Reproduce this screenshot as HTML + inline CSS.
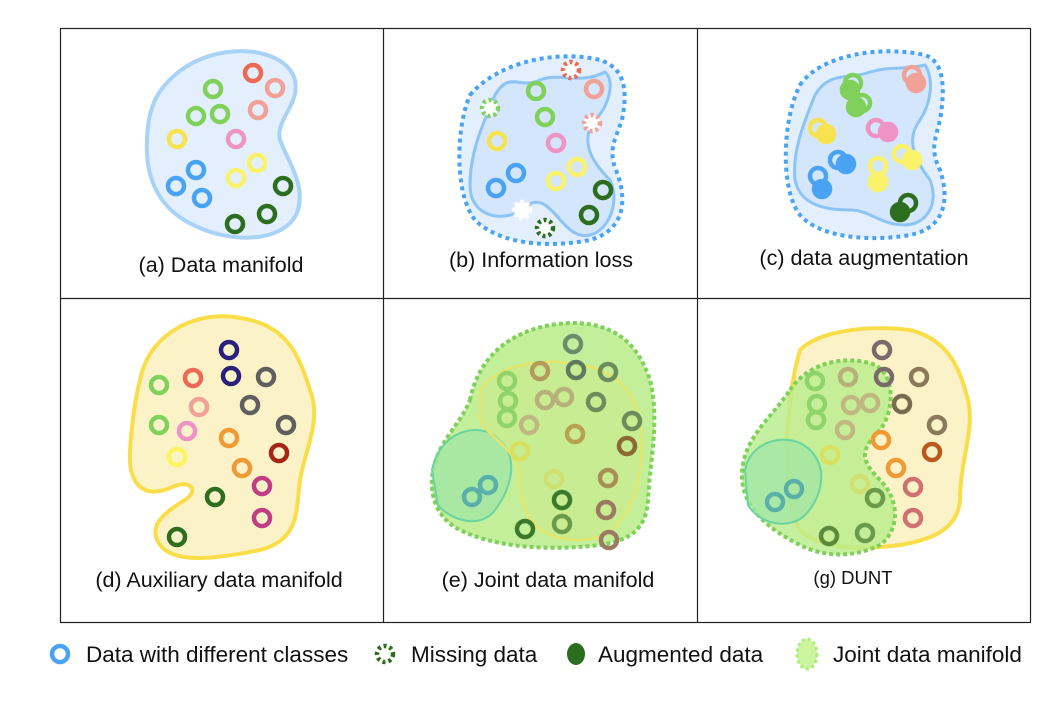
<!DOCTYPE html>
<html><head><meta charset="utf-8"><style>
html,body{margin:0;padding:0;background:#fff;}
svg{display:block;font-family:"Liberation Sans",sans-serif;}
</style></head><body>
<svg width="1064" height="706" viewBox="0 0 1064 706">
<g fill="none" stroke="#222" stroke-width="1.2">
<rect x="60.5" y="28.5" width="970" height="594"/>
<line x1="383.5" y1="28" x2="383.5" y2="622"/>
<line x1="697.5" y1="28" x2="697.5" y2="622"/>
<line x1="60" y1="298.5" x2="1030" y2="298.5"/>
</g>
<!-- (a) -->
<g>
<path d="M175,75 C215,40 285,45 295,80 C300,105 275,120 280,140 C290,165 305,185 298,210 C288,240 240,245 200,228 C160,212 145,180 147,140 C148,110 155,92 175,75Z" fill="#e3effc" stroke="#a9d2f7" stroke-width="4"/>
<g fill="none" stroke-width="4.5">
<circle cx="253" cy="73" r="8" stroke="#ec6a55"/><circle cx="275" cy="88" r="8" stroke="#f2a197"/><circle cx="258" cy="110" r="8" stroke="#f2a197"/>
<circle cx="213" cy="89" r="8" stroke="#7fd15a"/><circle cx="196" cy="116" r="8" stroke="#7fd15a"/><circle cx="220" cy="114" r="8" stroke="#7fd15a"/>
<circle cx="177" cy="139" r="8" stroke="#f7e34f"/><circle cx="236" cy="139" r="8" stroke="#ef92c6"/>
<circle cx="196" cy="170" r="8" stroke="#4aa3f2"/><circle cx="176" cy="186" r="8" stroke="#4aa3f2"/><circle cx="202" cy="198" r="8" stroke="#4aa3f2"/>
<circle cx="257" cy="163" r="8" stroke="#faf36a"/><circle cx="236" cy="178" r="8" stroke="#faf36a"/>
<circle cx="283" cy="186" r="8" stroke="#2d6e1e"/><circle cx="267" cy="214" r="8" stroke="#2d6e1e"/><circle cx="235" cy="224" r="8" stroke="#2d6e1e"/>
</g>
<text x="221" y="272" font-size="21.5" text-anchor="middle" fill="#111">(a) Data manifold</text>
</g>
<!-- (b) -->
<g>
<path d="M470,95 C500,60 560,50 600,60 C625,68 628,90 622,120 C615,140 608,150 616,170 C628,200 625,230 590,240 C550,248 500,245 475,220 C455,195 455,130 470,95Z" fill="#e3effc" stroke="#4aa3f2" stroke-width="4" stroke-dasharray="4 4"/>
<path d="M495,95 C510,70 520,90 540,80 C560,72 580,85 605,72 C615,80 610,105 595,120 C580,140 590,160 610,180 C620,200 610,230 590,235 C570,240 560,215 545,205 C530,195 520,215 510,215 C490,220 470,210 470,185 C470,155 480,130 495,95Z" fill="#d4e6fb" stroke="#8cc4f5" stroke-width="3"/>
<g fill="none" stroke-width="4.5">
<circle cx="536" cy="91" r="8" stroke="#7fd15a"/><circle cx="545" cy="117" r="8" stroke="#7fd15a"/><circle cx="594" cy="89" r="8" stroke="#f2a197"/>
<circle cx="497" cy="141" r="8" stroke="#f7e34f"/><circle cx="556" cy="143" r="8" stroke="#ef92c6"/>
<circle cx="516" cy="173" r="8" stroke="#4aa3f2"/><circle cx="496" cy="188" r="8" stroke="#4aa3f2"/>
<circle cx="577" cy="167" r="8" stroke="#faf36a"/><circle cx="556" cy="181" r="8" stroke="#faf36a"/>
<circle cx="603" cy="190" r="8" stroke="#2d6e1e"/><circle cx="589" cy="215" r="8" stroke="#2d6e1e"/>
</g>
<g fill="#fff" stroke-width="4.5" stroke-dasharray="3 3">
<circle cx="571" cy="70" r="8" stroke="#ec6a55"/><circle cx="490" cy="108" r="8" stroke="#7fd15a"/><circle cx="592" cy="123" r="8" stroke="#f2a197"/>
<circle cx="522" cy="210" r="8" stroke="#ffffff"/><circle cx="545" cy="228" r="8" stroke="#2d6e1e"/>
</g>
<text x="541" y="267" font-size="21.5" text-anchor="middle" fill="#111">(b) Information loss</text>
</g>
<!-- (c) -->
<g>
<path d="M800,85 C820,55 880,45 925,55 C945,62 945,90 940,120 C935,140 930,150 940,170 C950,200 945,228 910,235 C870,242 820,238 800,215 C780,190 782,120 800,85Z" fill="#e3effc" stroke="#4aa3f2" stroke-width="4" stroke-dasharray="4 4"/>
<path d="M815,95 C830,70 850,80 870,72 C890,66 905,70 925,65 C935,80 930,105 920,120 C905,140 915,160 930,180 C940,205 925,225 905,225 C880,225 870,210 850,210 C825,210 800,205 795,180 C792,150 805,120 815,95Z" fill="#d4e6fb" stroke="#8cc4f5" stroke-width="3"/>
<g stroke-width="4.5">
<circle cx="853" cy="83" r="8" fill="none" stroke="#7fd15a"/><circle cx="850" cy="90" r="8" fill="#7fd15a" stroke="#7fd15a"/>
<circle cx="862" cy="103" r="8" fill="none" stroke="#7fd15a"/><circle cx="856" cy="107" r="8" fill="#7fd15a" stroke="#7fd15a"/>
<circle cx="912" cy="75" r="8" fill="none" stroke="#f2a197"/><circle cx="916" cy="83" r="8" fill="#f2a197" stroke="#f2a197"/>
<circle cx="818" cy="128" r="8" fill="none" stroke="#f7e34f"/><circle cx="826" cy="134" r="8" fill="#f7e34f" stroke="#f7e34f"/>
<circle cx="876" cy="128" r="8" fill="none" stroke="#ef92c6"/><circle cx="888" cy="132" r="8" fill="#ef92c6" stroke="#ef92c6"/>
<circle cx="838" cy="160" r="8" fill="none" stroke="#4aa3f2"/><circle cx="846" cy="164" r="8" fill="#4aa3f2" stroke="#4aa3f2"/>
<circle cx="818" cy="176" r="8" fill="none" stroke="#4aa3f2"/><circle cx="822" cy="189" r="8" fill="#4aa3f2" stroke="#4aa3f2"/>
<circle cx="878" cy="166" r="8" fill="none" stroke="#faf36a"/><circle cx="878" cy="182" r="8" fill="#faf36a" stroke="#faf36a"/>
<circle cx="902" cy="154" r="8" fill="none" stroke="#faf36a"/><circle cx="912" cy="160" r="8" fill="#faf36a" stroke="#faf36a"/>
<circle cx="908" cy="203" r="8" fill="none" stroke="#2d6e1e"/><circle cx="900" cy="212" r="8" fill="#2d6e1e" stroke="#2d6e1e"/>
</g>
<text x="864" y="265" font-size="21.5" text-anchor="middle" fill="#111">(c) data augmentation</text>
</g>
<!-- (d) -->
<g>
<path d="M140,380 C150,330 200,310 240,318 C290,325 300,360 310,390 C322,420 305,450 300,480 C296,510 300,540 260,550 C220,558 175,565 160,545 C148,528 160,515 185,500 C200,490 190,478 170,488 C140,500 128,480 130,450 C132,420 135,400 140,380Z" fill="#fbf2c8" stroke="#f9de4a" stroke-width="4"/>
<g fill="none" stroke-width="4.5">
<circle cx="229" cy="350" r="8" stroke="#2a1f7a"/><circle cx="231" cy="376" r="8" stroke="#2a1f7a"/>
<circle cx="266" cy="377" r="8" stroke="#5f5f5f"/><circle cx="250" cy="405" r="8" stroke="#5f5f5f"/><circle cx="286" cy="425" r="8" stroke="#5f5f5f"/>
<circle cx="159" cy="385" r="8" stroke="#7fd15a"/><circle cx="159" cy="425" r="8" stroke="#7fd15a"/>
<circle cx="193" cy="378" r="8" stroke="#ec6a55"/><circle cx="199" cy="407" r="8" stroke="#f2a197"/><circle cx="187" cy="431" r="8" stroke="#ef92c6"/>
<circle cx="229" cy="438" r="8" stroke="#f09a35"/><circle cx="242" cy="468" r="8" stroke="#f09a35"/>
<circle cx="279" cy="453" r="8" stroke="#a52616"/><circle cx="177" cy="457" r="8" stroke="#fbf660"/>
<circle cx="262" cy="486" r="8" stroke="#c23c84"/><circle cx="262" cy="518" r="8" stroke="#c23c84"/>
<circle cx="215" cy="497" r="8" stroke="#2d6e1e"/><circle cx="177" cy="537" r="8" stroke="#2d6e1e"/>
</g>
<text x="219" y="587" font-size="21.5" text-anchor="middle" fill="#111">(d) Auxiliary data manifold</text>
</g>
<!-- (e) -->
<g>
<path d="M470,400 C480,350 520,325 570,323 C620,322 640,350 650,380 C660,420 650,460 648,500 C646,530 630,540 600,545 C560,550 500,550 460,530 C430,515 425,480 440,450 C450,430 462,420 470,400Z" fill="#b8ec8a" fill-opacity="0.85" stroke="#7fd15a" stroke-width="4" stroke-dasharray="4 3"/>
<path d="M432,470 C440,430 480,420 500,440 C520,460 510,490 495,510 C480,530 450,520 438,505Z" fill="#9ee6a6" fill-opacity="0.7" stroke="#6ad4a0" stroke-width="2"/>
<path d="M480,390 C500,360 560,355 600,370 C640,385 645,430 640,470 C635,510 615,540 580,540 C540,540 520,520 520,480 C520,450 490,440 480,420Z" fill="#cbe98a" fill-opacity="0.6" stroke="#e4e56a" stroke-width="2.5"/>
<g fill="none" stroke-width="4.5">
<circle cx="573" cy="344" r="8" stroke="#6c8c6a"/><circle cx="576" cy="370" r="8" stroke="#5e7a60"/><circle cx="540" cy="371" r="8" stroke="#b39a5a"/><circle cx="608" cy="372" r="8" stroke="#6c8c5c"/>
<circle cx="507" cy="381" r="8" stroke="#8fd46a"/><circle cx="508" cy="401" r="8" stroke="#8fd46a"/><circle cx="507" cy="418" r="8" stroke="#8fd46a"/>
<circle cx="545" cy="400" r="8" stroke="#b8b07a"/><circle cx="564" cy="397" r="8" stroke="#b8b07a"/><circle cx="596" cy="402" r="8" stroke="#6c8c5c"/>
<circle cx="632" cy="421" r="8" stroke="#6c8c5c"/><circle cx="575" cy="434" r="8" stroke="#b8a050"/><circle cx="529" cy="425" r="8" stroke="#c0b880"/>
<circle cx="627" cy="446" r="8" stroke="#8a6a30"/><circle cx="520" cy="451" r="8" stroke="#d8e060"/><circle cx="608" cy="478" r="8" stroke="#a89050"/>
<circle cx="472" cy="497" r="8" stroke="#5ab0a8"/><circle cx="488" cy="485" r="8" stroke="#5ab0a8"/><circle cx="554" cy="479" r="8" stroke="#d0e070"/>
<circle cx="562" cy="500" r="8" stroke="#3a7a2a"/><circle cx="606" cy="510" r="8" stroke="#9a7a60"/><circle cx="609" cy="540" r="8" stroke="#9a7a60"/>
<circle cx="525" cy="529" r="8" stroke="#3a7a2a"/><circle cx="562" cy="524" r="8" stroke="#6a9a4a"/>
</g>
<text x="548" y="587" font-size="21.5" text-anchor="middle" fill="#111">(e) Joint data manifold</text>
</g>
<!-- (g) -->
<g>
<path d="M800,350 C820,330 870,325 910,330 C950,340 960,370 968,400 C975,430 960,460 960,500 C958,530 930,540 900,545 C860,550 820,550 800,530 C780,500 785,400 800,350Z" fill="#fbf2c8" stroke="#f9de4a" stroke-width="4"/>
<path d="M790,390 C810,360 850,355 875,365 C895,375 895,410 880,430 C860,450 860,460 880,480 C900,500 900,530 880,545 C860,555 830,560 800,545 C770,530 745,510 742,480 C740,440 770,420 790,390Z" fill="#b8ec8a" fill-opacity="0.8" stroke="#7fd15a" stroke-width="4" stroke-dasharray="4 3"/>
<path d="M745,470 C750,440 790,430 810,450 C830,470 820,500 805,515 C790,530 760,525 748,505Z" fill="#9ee6a6" fill-opacity="0.7" stroke="#6ad4a0" stroke-width="2"/>
<g fill="none" stroke-width="4.5">
<circle cx="882" cy="350" r="8" stroke="#7a6a6a"/><circle cx="884" cy="377" r="8" stroke="#7a6a6a"/><circle cx="919" cy="377" r="8" stroke="#8a7a5a"/><circle cx="848" cy="377" r="8" stroke="#b8b07a"/>
<circle cx="815" cy="381" r="8" stroke="#8fd46a"/><circle cx="817" cy="404" r="8" stroke="#8fd46a"/><circle cx="816" cy="420" r="8" stroke="#8fd46a"/>
<circle cx="851" cy="405" r="8" stroke="#c0b880"/><circle cx="870" cy="403" r="8" stroke="#c0b880"/><circle cx="902" cy="404" r="8" stroke="#7a6a50"/>
<circle cx="937" cy="425" r="8" stroke="#8a7a5a"/><circle cx="881" cy="440" r="8" stroke="#f09a35"/><circle cx="845" cy="430" r="8" stroke="#c0b880"/>
<circle cx="932" cy="452" r="8" stroke="#b85a20"/><circle cx="830" cy="455" r="8" stroke="#d8e060"/><circle cx="896" cy="468" r="8" stroke="#f09a35"/>
<circle cx="775" cy="502" r="8" stroke="#5ab0a8"/><circle cx="794" cy="489" r="8" stroke="#5ab0a8"/><circle cx="860" cy="484" r="8" stroke="#d0e070"/>
<circle cx="875" cy="498" r="8" stroke="#6a9a4a"/><circle cx="913" cy="487" r="8" stroke="#d07070"/><circle cx="913" cy="518" r="8" stroke="#d07070"/>
<circle cx="829" cy="536" r="8" stroke="#5a8a3a"/><circle cx="865" cy="533" r="8" stroke="#6a9a4a"/>
</g>
<text x="853" y="584" font-size="18.5" text-anchor="middle" fill="#111">(g) DUNT</text>
</g>
<!-- legend -->
<g font-size="22.5" fill="#111">
<g>
<circle cx="60" cy="654" r="8" fill="none" stroke="#4aa3f2" stroke-width="4.5"/>
<text x="86" y="662">Data with different classes</text></g>
<g>
<circle cx="385" cy="654" r="8" fill="none" stroke="#2d6e1e" stroke-width="4.5" stroke-dasharray="3 3"/>
<text x="411" y="662">Missing data</text></g>
<g>
<ellipse cx="576" cy="654" rx="9" ry="11" fill="#2d6e1e"/>
<text x="598" y="662">Augmented data</text></g>
<g>
<ellipse cx="807" cy="654" rx="10" ry="15" fill="#cdf5a0" stroke="#a8ee7a" stroke-width="3" stroke-dasharray="3 3"/>
<text x="833" y="662">Joint data manifold</text></g>
</g>
</svg>
</body></html>
